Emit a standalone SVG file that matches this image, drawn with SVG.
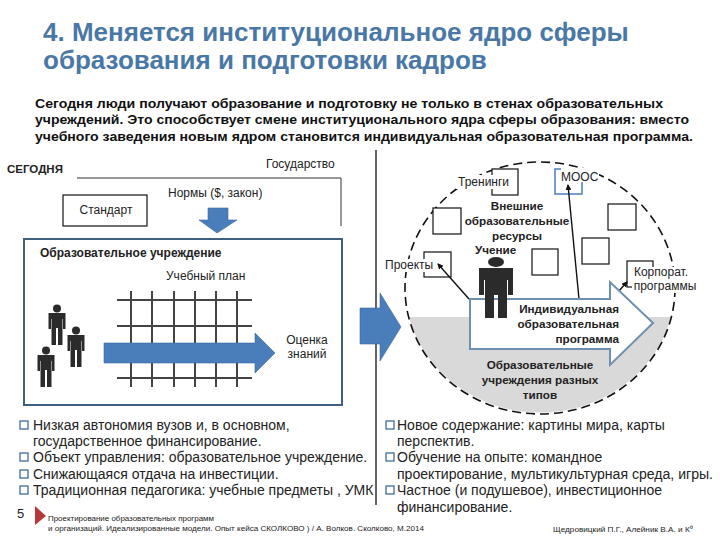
<svg xmlns="http://www.w3.org/2000/svg" width="720" height="540" viewBox="0 0 720 540">
<style>
text{font-family:"Liberation Sans",Arial,sans-serif;fill:#222}
.t{font-size:26px;font-weight:bold;fill:#4a78a6}
.i{font-size:13px;font-weight:bold;fill:#111}
.l{font-size:12px}
.b{font-size:11.7px;font-weight:bold}
.c{text-anchor:middle}
.e{text-anchor:end}
.m{font-size:14px}
.f{font-size:7.5px}
.box{fill:#fff;stroke:#111;stroke-width:1.2}
.grid{stroke:#444;stroke-width:2}
.bl{fill:#4a7ebb;stroke:#3b6a9e;stroke-width:.6}
.chk{fill:#fff;stroke:#3f6d9c;stroke-width:1.3}
.p{fill:#2b2b2b}
.lnk{stroke:#111;stroke-width:1.4;fill:none;marker-start:url(#tip)}
</style>
<defs>
<g id="person"><ellipse cx="0" cy="-16.5" rx="4" ry="4"/><path d="M-8.5-12H8.5V4H6V-6H5.5V20H1V3H-1V20H-5.5V-6H-6V4H-8.5Z"/></g>
<marker id="tip" markerWidth="6" markerHeight="6" refX="5" refY="3" orient="auto-start-reverse" markerUnits="userSpaceOnUse"><path d="M0 0L6 3L0 6Z" fill="#111"/></marker>
</defs>
<rect width="720" height="540" fill="#fff"/>
<g id="title"><text class="t" x="43" y="41">4. Меняется институциональное ядро сферы</text><text class="t" x="43" y="69">образования и подготовки кадров</text></g>
<g id="intro">
<text class="i" x="35" y="108" textLength="628" lengthAdjust="spacingAndGlyphs">Сегодня люди получают образование и подготовку не только в стенах образовательных</text>
<text class="i" x="35" y="124" textLength="654" lengthAdjust="spacingAndGlyphs">учреждений. Это способствует смене институционального ядра сферы образования: вместо</text>
<text class="i" x="35" y="141" textLength="658" lengthAdjust="spacingAndGlyphs">учебного заведения новым ядром становится индивидуальная образовательная программа.</text>
</g>
<g id="connectors">
<path d="M376 150V505" stroke="#111" stroke-width="1.3" fill="none"/>
<path d="M77 178H341V226" stroke="#333" stroke-width="1" fill="none"/>
</g>
<g id="left">
<text x="7" y="173" style="font-size:11.5px;font-weight:bold">СЕГОДНЯ</text>
<text class="l" x="266" y="168">Государство</text>
<text class="l" x="168" y="197">Нормы ($, закон)</text>
<g id="standard"><rect class="box" x="63" y="195" width="84" height="31"/><text class="l c" x="106" y="214">Стандарт</text></g>
<path class="bl" d="M208 208H228V220H237L217 233L199 220H208Z"/>
<g id="institution"><rect x="24" y="239" width="318" height="166" fill="#fff" stroke="#3f5f7f" stroke-width="2"/>
<text x="40" y="257" style="font-size:12px;font-weight:bold">Образовательное учреждение</text>
<text class="l" x="166" y="280">Учебный план</text>
<g class="grid"><path d="M117 300H252M117 326H252M117 352H252M117 378H252M131 291V387M152 291V387M174 291V387M195 291V387M216 291V387M237 291V387"/></g>
<path class="bl" d="M104 343H255V333L275 353L255 373V363H104Z"/>
<text class="l c" x="307" y="344">Оценка</text><text class="l c" x="307" y="358">знаний</text>
<g class="p"><use href="#person" x="57" y="325"/><use href="#person" x="76" y="347"/><use href="#person" x="46" y="367"/></g>
</g></g>
<path id="shift" class="bl" d="M360 308H380V293L401 327L380 361V344H360Z"/>
<g id="right">
<path d="M409 317H671A135 126 0 0 1 409 317Z" fill="#d9d9d9"/>
<ellipse cx="540" cy="288" rx="135" ry="126" fill="none" stroke="#111" stroke-width="1.6" stroke-dasharray="9 5"/>
<g fill="#fff" stroke="#111" stroke-width="1.2">
<rect x="492" y="169" width="26" height="26"/><rect x="433" y="208" width="28" height="26"/><rect x="424" y="252" width="27" height="25"/><rect x="532" y="249" width="26" height="26"/><rect x="582" y="238" width="27" height="26"/><rect x="608" y="204" width="28" height="26"/><rect x="627" y="261" width="26" height="26"/>
<rect x="555" y="169" width="27" height="25" stroke="#4a7ebb" stroke-width="1.5"/>
</g>
<rect x="456" y="175" width="52" height="14" fill="#fff"/>
<rect x="561" y="168" width="38" height="14" fill="#fff"/>
<rect x="384" y="259" width="49" height="13" fill="#fff"/>
<rect x="632" y="267" width="64" height="26" fill="#fff"/>
<path class="lnk" d="M568 185L579 299"/><path class="lnk" d="M438 264L469 299"/><path class="lnk" d="M627 282L608 303"/>
<path d="M470 299H610V282L653 323L610 365V349H470Z" fill="#fff" stroke="#6d8fb0" stroke-width="2"/>
<g class="p"><ellipse cx="496" cy="262" rx="8" ry="5"/><path d="M479 268H513V295H508V280H507V318H498V295H494V318H485V280H484V295H479Z"/></g>
<g id="labels">
<text class="l" x="458" y="186">Тренинги</text><text class="l" x="561" y="181">МООС</text>
<text class="b c" x="517" y="210">Внешние</text><text class="b c" x="517" y="225">образовательные</text><text class="b c" x="517" y="240">ресурсы</text><text class="b" x="475" y="254">Учение</text>
<text class="l" x="385" y="269">Проекты</text><text class="l c" x="661" y="276">Корпорат.</text><text class="l c" x="665" y="290">программы</text>
<text class="b e" x="619" y="313">Индивидуальная</text><text class="b e" x="619" y="328">образовательная</text><text class="b e" x="619" y="343">программа</text>
<text class="b c" x="540" y="369">Образовательные</text><text class="b c" x="540" y="384">учреждения разных</text><text class="b c" x="540" y="399">типов</text>
</g></g>
<g id="bullets-left">
<rect class="chk" x="20" y="421" width="8" height="8"/><rect class="chk" x="20" y="453" width="8" height="8"/><rect class="chk" x="20" y="470" width="8" height="8"/><rect class="chk" x="20" y="486" width="8" height="8"/>
<text class="m" x="33" y="430">Низкая автономия вузов и, в основном,</text><text class="m" x="33" y="446">государственное финансирование.</text><text class="m" x="33" y="462">Объект управления: образовательное учреждение.</text><text class="m" x="33" y="479">Снижающаяся отдача на инвестиции.</text><text class="m" x="33" y="495">Традиционная педагогика: учебные предметы , УМК</text>
</g>
<g id="bullets-right">
<rect class="chk" x="386" y="421" width="8" height="8"/><rect class="chk" x="386" y="453" width="8" height="8"/><rect class="chk" x="386" y="486" width="8" height="8"/>
<text class="m" x="397" y="430">Новое содержание: картины мира, карты</text><text class="m" x="397" y="446">перспектив.</text><text class="m" x="397" y="462">Обучение на опыте: командное</text><text class="m" x="397" y="479" textLength="316" lengthAdjust="spacingAndGlyphs">проектирование, мультикультурная среда, игры.</text><text class="m" x="397" y="495">Частное (и подушевое), инвестиционное</text><text class="m" x="397" y="512">финансирование.</text>
</g>
<g id="footer">
<text x="17" y="518" style="font-size:13px">5</text>
<path d="M35 506L46 516L35 525Z" fill="#b5393a"/>
<text class="f" x="48" y="521" textLength="166" lengthAdjust="spacingAndGlyphs">Проектирование образовательных программ</text>
<text class="f" x="48" y="531" textLength="376" lengthAdjust="spacingAndGlyphs">и организаций. Идеализированные модели. Опыт кейса СКОЛКОВО ) / А. Волков. Сколково, М.2014</text>
<text class="f" x="553" y="532" textLength="140" lengthAdjust="spacingAndGlyphs">Щедровицкий П.Г., Алейник В.А. и К⁰</text>
</g>
</svg>
